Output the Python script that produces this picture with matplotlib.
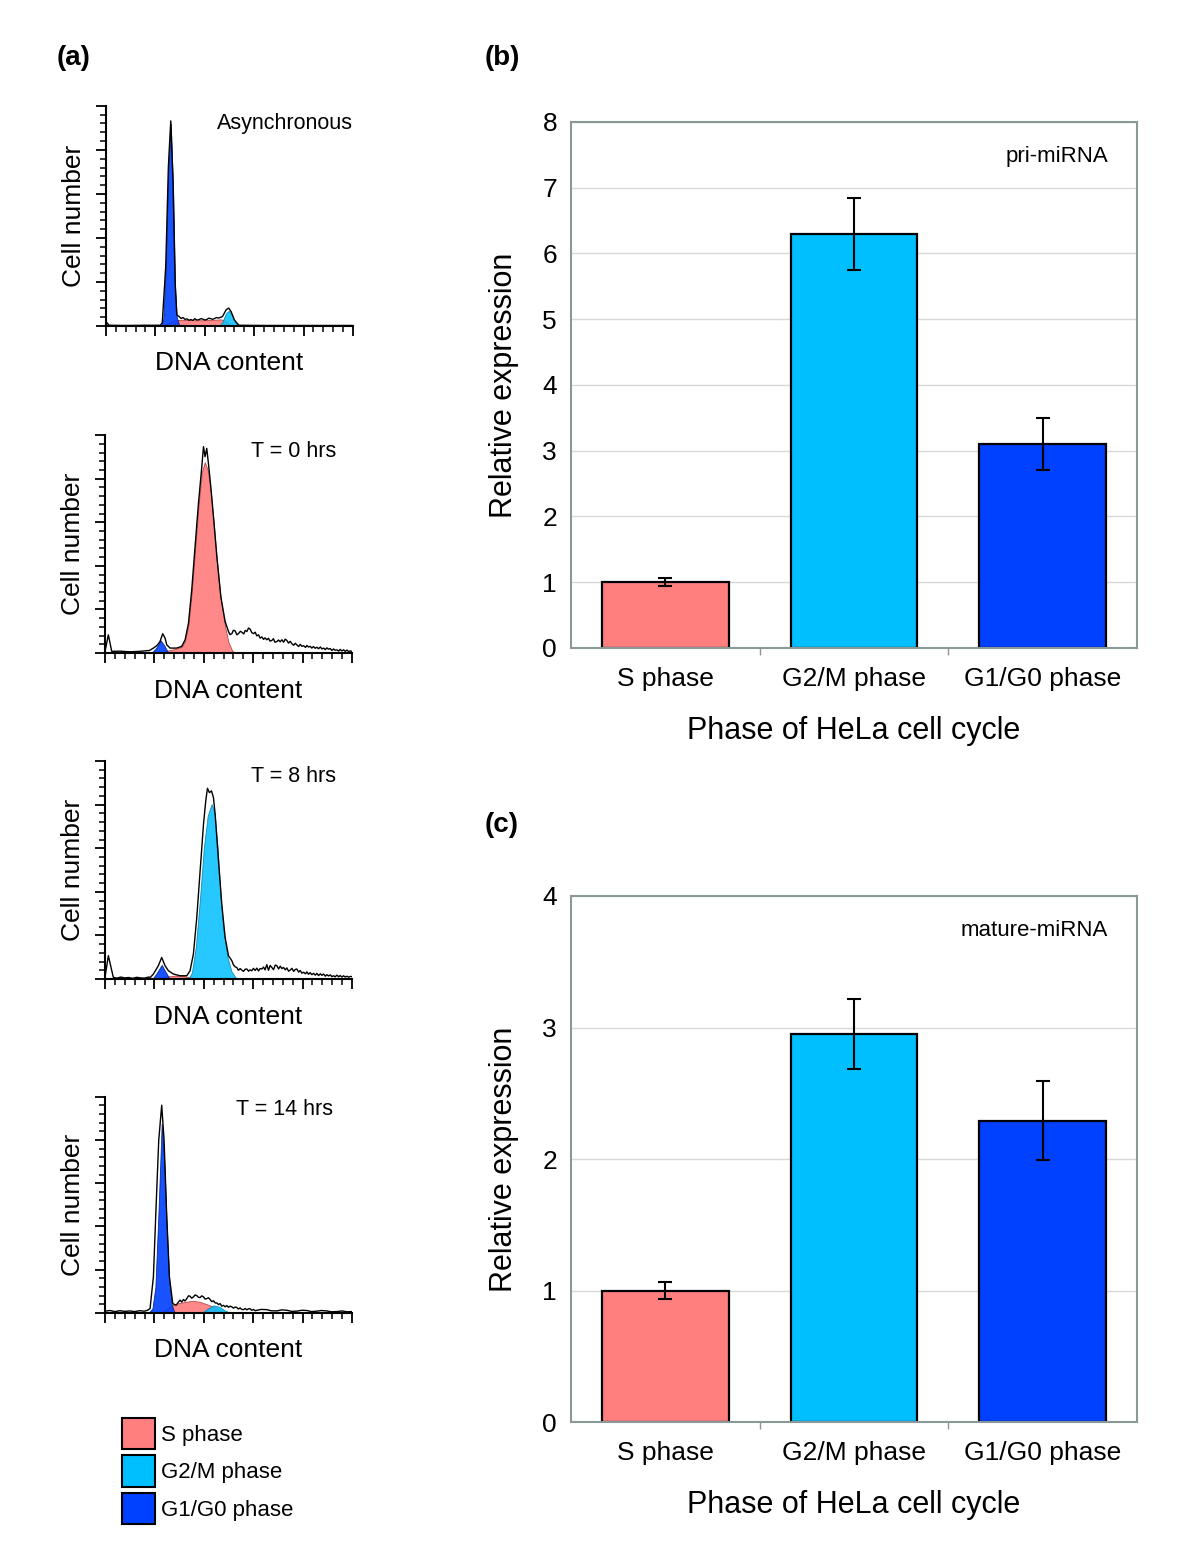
import matplotlib
matplotlib.use("Agg")
import matplotlib.pyplot as plt
from matplotlib.patches import Patch
from matplotlib.ticker import MultipleLocator

plt.rcParams['font.family'] = ['Liberation Sans', 'DejaVu Sans']

# colours of the three phases
c_s = '#FF7F7F'
c_g2 = '#00BFFF'
c_g1 = '#0040FF'

# ---------------- panel (a): flow cytometry histograms ----------------
# Asynchronous
async_x = [0, 1, 3, 20, 40, 55, 57, 60.5, 63.2, 65.6, 67.9, 70, 71.7, 74, 76, 78, 80, 82, 84, 86, 88, 90,
           92, 94, 96, 98, 100, 102, 104, 106, 108, 110, 112, 114, 116, 118, 121.6, 124.3, 126.7, 130.1,
           134.5, 160, 200, 250]
async_y = [0.3, 1.5, 0.3, 0.2, 0.3, 0.3, 1.5, 27, 72.6, 93.2, 65, 19.5, 5, 4.3, 3.4, 3.8, 3.0, 3.2, 2.6, 2.9,
           2.5, 3.3, 2.7, 2.8, 3.3, 3.1, 2.7, 2.9, 3.5, 3.3, 3.0, 3.4, 3.8, 3.6, 3.9, 4.3, 7.3, 8.1, 6.5, 2.7,
           0.3, 0.2, 0.2, 0.2]
async_g1_x = [56, 58, 60.5, 63.2, 65.6, 67.9, 70, 71.7, 74, 76]
async_g1_y = [0, 3, 26, 72, 92, 64, 18, 4, 0.5, 0]
async_s_x = [58, 64, 70, 76, 90, 100, 110, 116, 120, 124, 127]
async_s_y = [0, 1.5, 2.5, 2.8, 2.6, 2.6, 2.8, 3.0, 2.5, 1.2, 0]
async_g2_x = [115, 118, 121.6, 124.3, 126.7, 130, 134]
async_g2_y = [0, 2.0, 5.8, 6.9, 5.5, 2.2, 0]

# T = 0 hrs
t0_x = [0, 3.4, 6.8, 15, 25, 35, 45, 49, 52.4, 55.7, 58.4, 60.8, 62.5, 65.9, 72.6, 77.7, 81.1, 84.5, 87.8,
        91.2, 94.6, 98, 99.7, 101.3, 103, 104.7, 107.1, 109.8, 113.2, 117.2, 121.6,
        125, 126.5, 128.4, 130, 131.7, 133.5, 135.1, 137, 138.5, 140.5, 142, 143.6, 145.3, 146.9, 148.6,
        150.3, 152, 153.7, 155.4, 157, 158.8, 160.5, 162, 163.8, 165.5, 167, 168.9, 170.5, 172, 174,
        175.6, 177.3, 179.1, 180.8, 182.4, 184.1, 185.8, 187.5, 189.2, 191, 192.6, 194.2, 196, 197.6,
        199.3, 201, 203, 204.4, 206, 207.7, 209.4, 211, 212.8, 214.5, 216.2, 218, 219.6, 221.3, 223,
        224.6, 226.3, 228, 229.7, 231.4, 233, 234.8, 236.5, 238, 239.8, 241.5, 243.2, 245, 246.6, 248.3, 250]
t0_y = [0.8, 8.4, 0.8, 0.9, 0.6, 0.8, 1.2, 2.3, 3.4, 5.3, 8.9, 6.9, 3.8, 2.3, 2.3, 3.1, 6.1, 13.7, 29,
        48.9, 68.7, 85.5, 94.7, 90.1, 93.9, 87, 76.4, 62.6, 44.3, 26, 14.5,
        9.9, 8.5, 8.9, 10.5, 10.2, 8.4, 8.9, 10.0, 9.6, 8.8, 10.4, 9.9, 11.5, 11.0, 9.4,
        8.9, 9.6, 7.9, 8.4, 6.9, 7.4, 6.3, 7.0, 6.1, 6.8, 5.5, 5.8, 6.6, 5.0, 5.3,
        6.0, 5.2, 6.1, 5.0, 6.4, 5.8, 4.6, 5.4, 4.3, 3.6, 4.5, 3.8, 3.0, 4.0,
        3.1, 3.4, 2.6, 3.5, 2.8, 3.1, 2.3, 3.0, 2.2, 2.7, 2.0, 2.8, 1.9, 2.3, 1.6,
        2.4, 1.8, 2.1, 1.2, 1.9, 1.3, 1.5, 0.9, 1.7, 1.0, 1.5, 0.8, 1.4, 0.7, 1.0, 0.8]
t0_g1_x = [47, 52, 56.4, 60, 63, 65]
t0_g1_y = [0, 2.5, 5.8, 3.5, 1, 0]
t0_s_x = [55, 62, 72, 78, 81, 84.5, 87.8, 91.2, 94.6, 98, 101, 104, 107, 110, 113.2, 117.2, 121.6, 125, 128.4, 131]
t0_s_y = [0, 1.0, 2.0, 3.0, 5.5, 13, 28, 47.5, 67, 83, 87.5, 84, 74, 60, 43, 25, 12, 5, 1.5, 0]

# T = 8 hrs
t8_x = [0, 3.4, 8.4, 12, 16, 20, 24, 28, 32, 36, 40, 44, 46, 49, 54, 57.4, 60.8, 64.2, 69.2, 76, 82.8, 86.1,
        89.5, 92.9, 96.3, 99.7, 102, 103.7, 105.7, 107.8, 109.8, 111.5, 114.9, 118.2, 121.6, 125,
        128.4, 130, 131.7, 133.4, 135, 136.8, 138.5, 140.2, 141.9, 143.6, 145.3, 147, 148.6, 150.3, 152,
        153.7, 155.4, 157, 158.8, 160.5, 162, 163.8, 165.5, 167.2, 168.9, 170.6, 172.3, 174, 175.7,
        177.4, 179.1, 180.7, 182.5, 184.1, 185.8, 187.5, 189.2, 191, 192.6, 194.2, 196, 197.6, 199.3,
        201, 203, 204.4, 206, 207.7, 209.4, 211.1, 213, 214.5, 216.2, 218, 219.6, 221.3, 223, 224.6,
        226.3, 228, 229.7, 231.4, 233, 234.8, 236.5, 238, 239.8, 241.5, 243.2, 245, 246.6, 248.3, 250]
t8_y = [0.8, 10.7, 0.8, 0.4, 0.9, 0.5, 0.7, 0.3, 0.8, 0.5, 0.4, 0.9, 0.8, 2.3, 6.1, 9.9, 6.1, 3.8, 2.3, 1.5,
        1.5, 3.8, 11.5, 28.2, 49.6, 71, 81.7, 87.5, 85.5, 86.3, 83.2, 75.6, 54.2, 34.4, 19.1, 10.7,
        8.4, 6.5, 5.6, 5.3, 4.0, 4.8, 4.1, 3.5, 4.5, 4.6, 3.6, 4.2, 3.8, 4.9, 3.9,
        5.0, 3.7, 4.8, 4.6, 5.5, 4.2, 6.6, 4.0, 6.2, 5.3, 4.3, 6.4, 6.1, 4.6,
        5.9, 4.8, 5.3, 4.2, 5.1, 3.6, 4.1, 4.9, 3.5, 4.4, 4.6, 3.2, 3.9, 2.7,
        3.1, 2.4, 3.3, 2.2, 2.9, 2.0, 2.6, 1.8, 2.6, 1.6, 2.4, 1.7, 2.3, 1.3, 2.0,
        1.4, 1.9, 1.1, 1.5, 1.0, 1.8, 1.0, 1.6, 0.9, 1.5, 0.9, 1.3, 0.8, 1.2, 1.1]
t8_g1_x = [48, 52, 57.4, 61, 64.5, 67]
t8_g1_y = [0, 2.5, 6.5, 3.5, 0.8, 0]
t8_s_x = [55, 60, 70, 80, 86, 90]
t8_s_y = [0, 1.0, 1.5, 1.3, 0.8, 0]
t8_g2_x = [84.5, 88, 92, 96, 100, 104, 108, 111, 114, 117, 120, 124, 128, 132, 135]
t8_g2_y = [0, 3, 15, 36, 60, 75, 80.2, 76, 60, 38, 22, 10, 3.5, 0.8, 0]

# T = 14 hrs
t14_x = [0, 5, 10, 15, 20, 25, 30, 35, 40, 43, 45.6, 49, 51.7, 54.4, 57.4, 59.8, 62.5, 65.2, 68.6, 72,
         74, 76, 77.7, 79.4, 81, 82.8, 84.5, 86.1, 87.8, 89.5, 91.2, 92.9, 94.6, 96.3, 98, 99.7, 101.3,
         103, 104.7, 106.4, 108, 109.8, 111.5, 113.2, 115, 116.5, 118.2, 119.9, 121.6, 123.3, 125,
         126.7, 128.4, 130, 131.7, 133.4, 135, 136.8, 138.5, 140.2, 142, 143.6, 145.3, 146.9, 148.6,
         150.3, 152, 153.7, 158, 163.8, 168, 174, 179, 184.1, 189, 194.2, 199, 204.4, 209, 214.5, 219,
         224.6, 229, 234.8, 240, 245, 250]
t14_y = [0.8, 1.1, 0.6, 1.0, 0.7, 0.9, 0.6, 1.0, 0.8, 1.2, 2, 16.7, 49, 79.9, 96.1, 79.9, 44.4, 16.7, 4.3, 3.5,
         4.8, 5.9, 5.0, 6.2, 5.5, 6.6, 7.9, 7.7, 6.8, 7.4, 8.3, 8.0, 7.2, 7.1, 7.9, 7.4, 6.4,
         6.6, 7.0, 6.2, 5.2, 5.6, 4.6, 4.6, 3.8, 4.3, 3.1, 3.5, 2.8, 3.4, 2.6,
         3.1, 2.8, 2.2, 2.7, 2.5, 1.8, 2.3, 1.6, 1.5, 2.0, 1.4, 1.9, 1.9, 1.2,
         1.6, 1.0, 1.2, 1.6, 1.5, 1.0, 0.9, 1.4, 1.2, 0.7, 0.8, 1.2, 1.1, 0.6, 0.8, 1.1,
         0.9, 0.5, 0.6, 0.9, 0.5, 0.6]
t14_g1_x = [44, 48, 51, 54, 57.4, 60, 62.5, 65, 67.5, 70, 72]
t14_g1_y = [0, 2, 12, 45, 87.5, 70, 40, 15, 4, 0.5, 0]
t14_s_x = [55, 62, 70, 79, 89, 96, 103, 110, 116.5, 122]
t14_s_y = [0, 1.5, 4.0, 4.9, 5.6, 5.1, 4.0, 2.8, 1.2, 0]
t14_g2_x = [98, 104, 110, 116, 121, 127]
t14_g2_y = [0, 2.0, 3.5, 2.8, 1.2, 0]

# ---------------- panels (b) and (c): qPCR bars ----------------
phases = ['S phase', 'G2/M phase', 'G1/G0 phase']
pri_mean = [1.0, 6.3, 3.1]
pri_err = [0.06, 0.55, 0.39]
mature_mean = [1.0, 2.95, 2.29]
mature_err = [0.065, 0.265, 0.30]


fig = plt.figure(figsize=(12, 15.55), dpi=100)


def histo(rect, title, tx, ty, outline, s=None, g2=None, g1=None):
    ax = fig.add_axes(rect)
    if s is not None:
        ax.fill_between(s[0], s[1], color=c_s, alpha=0.92, lw=0.6, edgecolor='#b04040')
    if g2 is not None:
        ax.fill_between(g2[0], g2[1], color=c_g2, alpha=0.85, lw=0.6, edgecolor='#0080a0')
    if g1 is not None:
        ax.fill_between(g1[0], g1[1], color=c_g1, alpha=0.9, lw=0.6, edgecolor='#002080')
    ax.plot(outline[0], outline[1], color='black', lw=1.0)
    ax.set_xlim(0, 250)
    ax.set_ylim(0, 100)
    for sp in ['top', 'right']:
        ax.spines[sp].set_visible(False)
    for sp in ['left', 'bottom']:
        ax.spines[sp].set_linewidth(1.5)
    ax.xaxis.set_major_locator(MultipleLocator(50))
    ax.xaxis.set_minor_locator(MultipleLocator(10))
    ax.yaxis.set_major_locator(MultipleLocator(20))
    ax.yaxis.set_minor_locator(MultipleLocator(4))
    ax.tick_params(which='major', direction='out', length=7, width=1.3, labelbottom=False, labelleft=False)
    ax.tick_params(which='minor', direction='out', length=4, width=1.1)
    ax.set_xlabel('DNA content', fontsize=19, labelpad=11)
    ax.set_ylabel('Cell number', fontsize=19, labelpad=7)
    ax.text(tx, ty, title, transform=ax.transAxes, ha='right', va='center', fontsize=15.5)
    return ax


histo([0.0883, 0.7904, 0.2058, 0.1415], 'Asynchronous', 1.0, 0.918,
      (async_x, async_y), (async_s_x, async_s_y), (async_g2_x, async_g2_y), (async_g1_x, async_g1_y))
histo([0.0875, 0.5800, 0.2058, 0.1402], 'T = 0 hrs', 0.935, 0.927,
      (t0_x, t0_y), (t0_s_x, t0_s_y), None, (t0_g1_x, t0_g1_y))
histo([0.0875, 0.3704, 0.2058, 0.1402], 'T = 8 hrs', 0.935, 0.931,
      (t8_x, t8_y), (t8_s_x, t8_s_y), (t8_g2_x, t8_g2_y), (t8_g1_x, t8_g1_y))
histo([0.0875, 0.1557, 0.2058, 0.1390], 'T = 14 hrs', 0.923, 0.94,
      (t14_x, t14_y), (t14_s_x, t14_s_y), (t14_g2_x, t14_g2_y), (t14_g1_x, t14_g1_y))

handles = [Patch(facecolor=c, edgecolor='black', linewidth=1.5) for c in (c_s, c_g2, c_g1)]
fig.legend(handles, phases, loc='upper left', bbox_to_anchor=(0.1017, 0.0881), frameon=False,
           fontsize=16, handlelength=1.5, handleheight=1.8, labelspacing=0.27,
           handletextpad=0.25, borderpad=0, borderaxespad=0)


def bars(rect, mean, err, ymax, tag):
    ax = fig.add_axes(rect)
    x = range(len(phases))
    ax.bar(x, mean, width=0.67, color=[c_s, c_g2, c_g1], edgecolor='black', linewidth=1.6, zorder=2)
    ax.errorbar(x, mean, yerr=err, fmt='none', ecolor='black', elinewidth=1.5,
                capsize=5, capthick=1.5, zorder=3)
    ax.set_xlim(-0.5, 2.5)
    ax.set_ylim(0, ymax)
    ax.set_yticks(range(ymax + 1))
    ax.set_xticks(list(x))
    ax.set_xticklabels(phases)
    ax.set_xticks([0.5, 1.5], minor=True)
    ax.yaxis.grid(True, color='#d8d8d8', lw=1.0, zorder=0)
    ax.set_axisbelow(True)
    for sp in ax.spines.values():
        sp.set_color('#8a9898')
        sp.set_linewidth(1.5)
    ax.tick_params(axis='y', length=0, labelsize=19, pad=10)
    ax.tick_params(axis='x', which='major', length=0, labelsize=19, pad=14)
    ax.tick_params(axis='x', which='minor', length=5, color='#8a9898', width=1)
    ax.set_xlabel('Phase of HeLa cell cycle', fontsize=22, labelpad=18)
    ax.set_ylabel('Relative expression', fontsize=22, labelpad=17)
    ax.text(0.949, 0.935, tag, transform=ax.transAxes, ha='right', va='center', fontsize=16)
    return ax


bars([0.4758, 0.5833, 0.4717, 0.3383], pri_mean, pri_err, 8, 'pri-miRNA')
bars([0.4758, 0.0855, 0.4717, 0.3383], mature_mean, mature_err, 4, 'mature-miRNA')

fig.text(74 / 1200, 1 - 58 / 1555, '(a)', fontsize=20, fontweight='bold', ha='center', va='center')
fig.text(502 / 1200, 1 - 58 / 1555, '(b)', fontsize=20, fontweight='bold', ha='center', va='center')
fig.text(502 / 1200, 1 - 825 / 1555, '(c)', fontsize=20, fontweight='bold', ha='center', va='center')

fig.savefig('out.png', dpi=100)
